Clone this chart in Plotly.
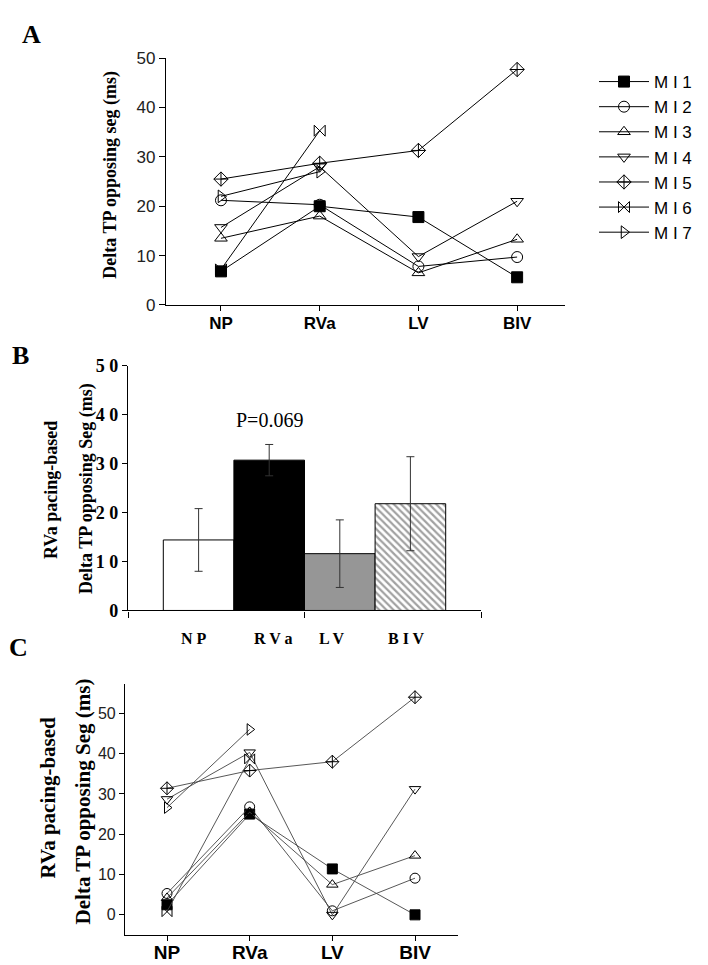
import plotly.graph_objects as go

W, H = 708, 965

cats = ["NP", "RVa", "LV", "BIV"]
names = ["M I 1", "M I 2", "M I 3", "M I 4", "M I 5", "M I 6", "M I 7"]
symbols = ["square", "circle-open", "triangle-up-open", "triangle-down-open",
           "diamond-cross-open", "bowtie-open", "triangle-right-open"]

# Panel A: Delta TP opposing seg (ms)
a_mi1 = [6.8, 20.0, 17.8, 5.6]
a_mi2 = [21.2, 20.3, 7.8, 9.7]
a_mi3 = [13.5, 18.0, 6.5, 13.3]
a_mi4 = [15.7, 28.0, 9.8, 21.0]
a_mi5 = [25.5, 28.7, 31.3, 47.7]
a_mi6 = [7.2, 35.3, None, None]
a_mi7 = [22.0, 27.0, None, None]

# Panel B: means and error (RVa pacing-based)
b_means = [14.4, 30.7, 11.6, 21.8]
b_err = [6.4, 3.2, 6.9, 9.6]
b_labels = ["N P", "R V a", "L V", "B I V"]
b_ticklabels = ["0", "1 0", "2 0", "3 0", "4 0", "5 0"]
b_tickvals = [0, 10, 20, 30, 40, 50]

# Panel C: RVa pacing-based
c_mi1 = [2.5, 25.0, 11.4, 0.0]
c_mi2 = [5.3, 26.8, 1.0, 9.1]
c_mi3 = [4.2, 25.5, 7.5, 14.7]
c_mi4 = [28.7, 40.3, 0.0, 31.2]
c_mi5 = [31.4, 35.8, 38.0, 54.0]
c_mi6 = [0.8, 38.7, None, None]
c_mi7 = [26.6, 46.0, None, None]

a_series = [a_mi1, a_mi2, a_mi3, a_mi4, a_mi5, a_mi6, a_mi7]
c_series = [c_mi1, c_mi2, c_mi3, c_mi4, c_mi5, c_mi6, c_mi7]

SERIF = "Liberation Serif"
SANS = "Liberation Sans"

def px(x):
    return x / W

def py(y):
    return 1 - y / H

fig = go.Figure()

for nm, sym, vals in zip(names, symbols, a_series):
    fig.add_trace(go.Scatter(
        x=cats, y=vals, name=nm, mode="lines+markers",
        line=dict(color="black", width=1),
        marker=dict(symbol=sym, size=11, color="black",
                    line=dict(color="black", width=1)),
        xaxis="x", yaxis="y", showlegend=True, connectgaps=False))

bar_colors = ["white", "black", "#969696", "white"]
patterns = ["", "", "", "\\"]
fig.add_trace(go.Bar(
    x=list(range(len(cats))), y=b_means, width=1,
    marker=dict(color=bar_colors, line=dict(color="black", width=1),
                pattern=dict(shape=patterns, fgcolor="black", bgcolor="white",
                             size=5, solidity=0.45, fillmode="overlay")),
    error_y=dict(type="data", array=b_err, color="#333", thickness=1, width=4),
    xaxis="x2", yaxis="y2", showlegend=False))

for nm, sym, vals in zip(names, symbols, c_series):
    fig.add_trace(go.Scatter(
        x=cats, y=vals, name=nm, mode="lines+markers",
        line=dict(color="#444", width=0.9),
        marker=dict(symbol=sym, size=10, color="black",
                    line=dict(color="black", width=1)),
        xaxis="x3", yaxis="y3", showlegend=False, connectgaps=False))

annotations = []
# panel letters
for letter, (x, y) in zip(["A", "B", "C"], [(23, 17), (12, 345), (10, 643)]):
    annotations.append(dict(text="<b>" + letter + "</b>", x=px(x), y=py(y),
                            xref="paper", yref="paper",
                            showarrow=False, font=dict(family=SERIF, size=26, color="black"),
                            xanchor="center", yanchor="middle"))

def vtitle(text, x, y, size):
    return dict(text="<b>" + text + "</b>", x=px(x), y=py(y), xref="paper", yref="paper",
                showarrow=False, textangle=-90, xanchor="center", yanchor="middle",
                font=dict(family=SERIF, size=size, color="black"))

annotations.append(vtitle("Delta TP opposing seg (ms)", 103, 160, 18))
annotations.append(vtitle("RVa pacing-based", 43, 482, 18))
annotations.append(vtitle("Delta TP opposing Seg (ms)", 78, 481, 18))
annotations.append(vtitle("RVa pacing-based", 40, 796, 21))
annotations.append(vtitle("Delta TP opposing Seg (ms)", 75, 800, 21))

# P value
annotations.append(dict(text="P=0.069", x=1, y=39, xref="x2", yref="y2", showarrow=False,
                        xanchor="center", yanchor="middle",
                        font=dict(family=SERIF, size=20, color="black")))
# B category labels
shifts = [-5, 4, -8, -4]
for i, (lab, sh) in enumerate(zip(b_labels, shifts)):
    annotations.append(dict(text="<b>" + lab + "</b>", x=i, y=py(634), xref="x2", yref="paper",
                            xshift=sh, showarrow=False, xanchor="center", yanchor="middle",
                            font=dict(family=SERIF, size=16, color="black")))

fig.update_layout(
    width=W, height=H, margin=dict(l=0, r=0, t=0, b=0),
    paper_bgcolor="white", plot_bgcolor="white",
    annotations=annotations,
    legend=dict(x=px(586), y=py(47), xanchor="left", yanchor="top",
                font=dict(family=SANS, size=17, color="black"),
                itemwidth=50, tracegroupgap=0, bgcolor="rgba(0,0,0,0)"),
    xaxis=dict(domain=[px(158), px(557)], anchor="y", type="category",
               range=[-0.557, 3.485], showline=True, linecolor="black", linewidth=1.2,
               ticks="outside", ticklen=5, tickcolor="black", showgrid=False, zeroline=False,
               tickfont=dict(family=SANS, size=17, color="black"), ticklabelstandoff=-2,
               tickvals=cats, ticktext=["<b>" + c + "</b>" for c in cats]),
    yaxis=dict(domain=[py(293), py(41)], anchor="x", range=[0, 50],
               showline=True, linecolor="black", linewidth=1.2,
               ticks="outside", ticklen=6, tickcolor="black", showgrid=False, zeroline=False,
               tickvals=[0, 10, 20, 30, 40, 50],
               tickfont=dict(family=SANS, size=17, color="#222")),
    xaxis2=dict(domain=[px(120), px(473)], anchor="y2", range=[-1.0, 4.0],
                showline=True, linecolor="black", linewidth=1.2,
                ticks="outside", ticklen=6, tickcolor="black", showgrid=False, zeroline=False,
                tickvals=[-1, 1.5, 4], ticktext=["", "", ""]),
    yaxis2=dict(domain=[py(605), py(355)], anchor="x2", range=[0, 50],
                showline=True, linecolor="black", linewidth=1.2,
                ticks="outside", ticklen=5, tickcolor="black", showgrid=False, zeroline=False,
                tickvals=b_tickvals, ticktext=["<b>" + t + "</b>" for t in b_ticklabels],
                tickfont=dict(family=SERIF, size=18, color="black")),
    xaxis3=dict(domain=[px(117), px(450)], anchor="y3", type="category",
                range=[-0.508, 3.52], showline=True, linecolor="black", linewidth=1.2,
                ticks="outside", ticklen=5, tickcolor="black", showgrid=False, zeroline=False,
                tickfont=dict(family=SANS, size=19, color="black"), ticklabelstandoff=-5,
                tickvals=cats, ticktext=["<b>" + c + "</b>" for c in cats]),
    yaxis3=dict(domain=[py(936), py(680)], anchor="x3", range=[-4.9, 57.3],
                showline=True, linecolor="black", linewidth=1.2,
                ticks="outside", ticklen=5, tickcolor="black", showgrid=False, zeroline=False,
                tickvals=[0, 10, 20, 30, 40, 50],
                tickfont=dict(family=SANS, size=16, color="#222")),
)

fig.write_html("out.html")
